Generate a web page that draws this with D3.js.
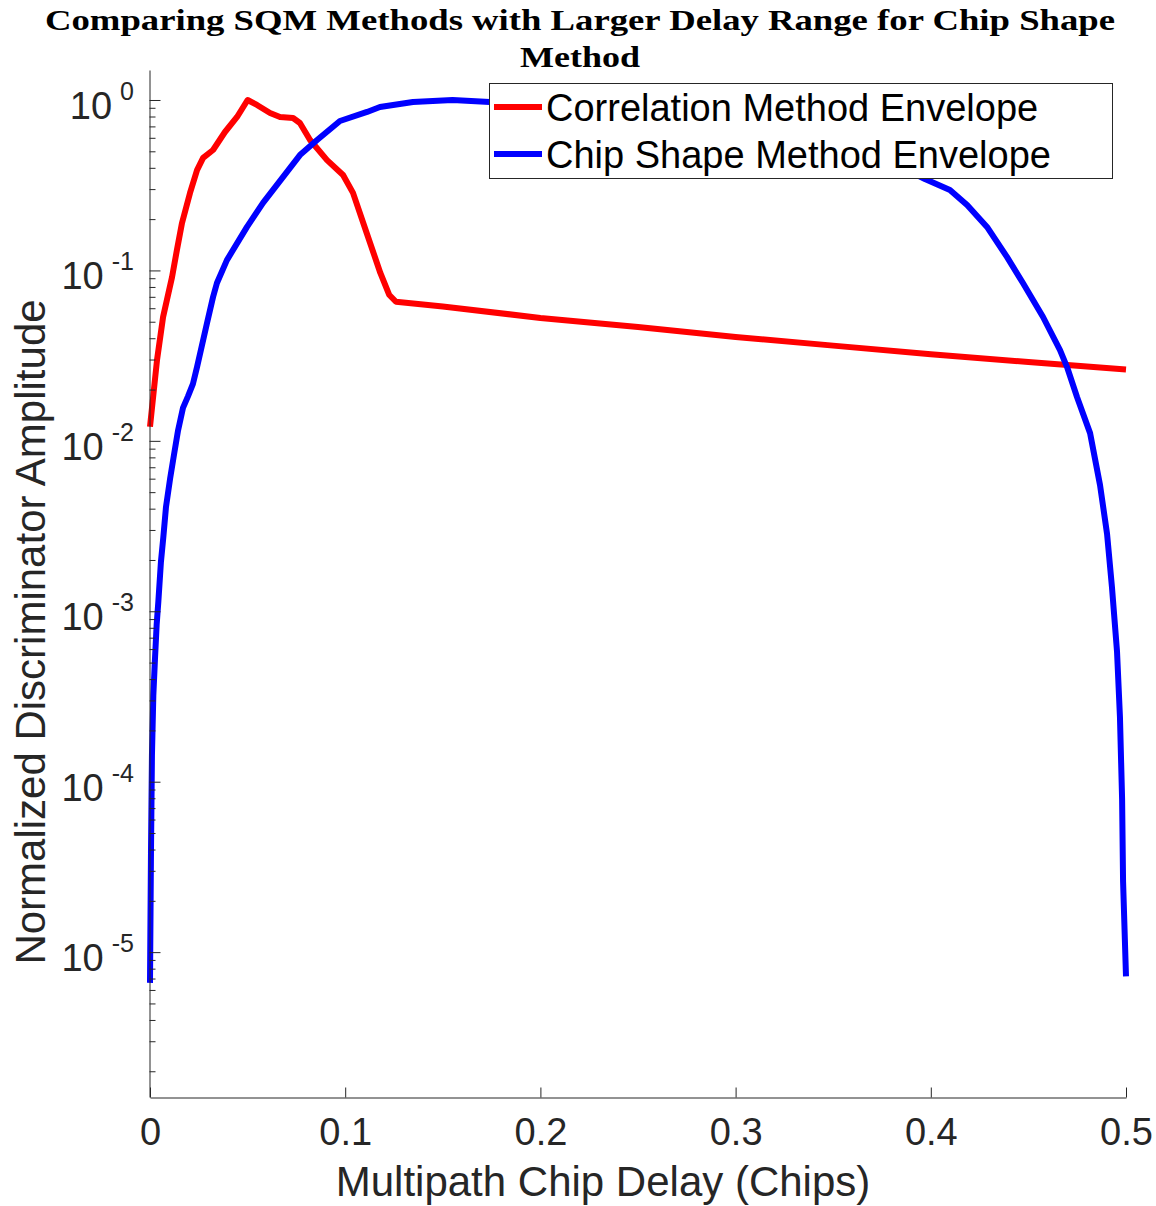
<!DOCTYPE html>
<html>
<head>
<meta charset="utf-8">
<script src="https://cdn.jsdelivr.net/npm/d3@7"></script>
<style>
  html, body { margin: 0; padding: 0; background: #fff; }
  svg { display: block; }
</style>
</head>
<body>
<svg id="chart" width="1156" height="1206"></svg>
<script>
// ---- data ----
const titleLines = ["Comparing SQM Methods with Larger Delay Range for Chip Shape", "Method"];
const xLabel = "Multipath Chip Delay (Chips)";
const yLabel = "Normalized Discriminator Amplitude";
const seriesNames = ["Correlation Method Envelope", "Chip Shape Method Envelope"];
const xTickValues = [0, 0.1, 0.2, 0.3, 0.4, 0.5];
const yTickExponents = [0, -1, -2, -3, -4, -5];

const corrDelay = [0, 0.0036, 0.0067, 0.0113, 0.0138, 0.0164, 0.0205, 0.0241, 0.0272, 0.0323, 0.0384, 0.0446, 0.05,
  0.0548, 0.0615, 0.0666, 0.0733, 0.0768, 0.082, 0.0907, 0.0989, 0.104, 0.111, 0.118, 0.1225, 0.126,
  0.15, 0.2, 0.25, 0.3, 0.35, 0.4, 0.45, 0.5];
const corrAmp = [0.0121, 0.0298, 0.0533, 0.0915, 0.132, 0.19, 0.285, 0.388, 0.457, 0.509, 0.649, 0.795, 1.0,
  0.935, 0.839, 0.795, 0.784, 0.733, 0.582, 0.444, 0.363, 0.285, 0.166, 0.0966, 0.072, 0.0655,
  0.0615, 0.0526, 0.0466, 0.0407, 0.0362, 0.0322, 0.029, 0.0262];

const chipDelay = [0, 0.0005, 0.001, 0.0017, 0.0026, 0.0034, 0.0043, 0.0056, 0.0068, 0.0082, 0.0103, 0.0123, 0.0143,
  0.0169, 0.0195, 0.022, 0.0241, 0.0292, 0.0323, 0.0343, 0.0394, 0.0497, 0.0579, 0.0681, 0.0768, 0.0856, 0.0973,
  0.1112, 0.1178, 0.1347, 0.155, 0.174, 0.2, 0.25, 0.3, 0.35, 0.38, 0.397, 0.4098, 0.4186, 0.4288, 0.439, 0.4472,
  0.4575, 0.4662, 0.4698, 0.4749, 0.4816, 0.4867, 0.4903, 0.4928, 0.4954, 0.4969, 0.498, 0.4985, 0.5];
const chipAmp = [6.6e-6, 3.8e-5, 1.43e-4, 3.2e-4, 5.4e-4, 8.3e-4, 1.15e-3, 1.95e-3, 2.7e-3, 4.1e-3, 6.0e-3, 8.3e-3, 0.0114,
  0.0156, 0.0183, 0.0216, 0.0271, 0.0491, 0.0698, 0.0844, 0.115, 0.18, 0.249, 0.353, 0.475, 0.582, 0.753,
  0.851, 0.91, 0.973, 1.0, 0.973, 0.95, 0.86, 0.72, 0.55, 0.43, 0.344, 0.296, 0.242, 0.18, 0.12, 0.0844,
  0.0533, 0.0341, 0.0271, 0.0181, 0.0111, 0.0055, 0.00284, 0.00139, 5.8e-4, 2.4e-4, 7.9e-5, 2.6e-5, 7.2e-6];

(function () {
// ---- layout ----
const svg = d3.select("#chart");
const plotLeft = 150, plotRight = 1126, plotTop = 70, plotBottom = 1097;
const axisColor = "#262626";
const sans = "'Liberation Sans', Arial, Helvetica, sans-serif";

const x = d3.scaleLinear().domain([0, 0.5]).range([plotLeft, plotRight]);
const y = d3.scaleLog().domain([Math.pow(10, -5.85), Math.pow(10, 0.176)]).range([plotBottom, plotTop]);

// ---- series ----
const line = d3.line().x(d => x(d[0])).y(d => y(d[1]));
const corrData = corrDelay.map((d, i) => [d, corrAmp[i]]);
const chipData = chipDelay.map((d, i) => [d, chipAmp[i]]);
const colors = ["#ff0000", "#0000ff"];

const plot = svg.append("g");
plot.append("path").datum(corrData).attr("d", line)
  .attr("fill", "none").attr("stroke", colors[0]).attr("stroke-width", 6).attr("stroke-linejoin", "round");
plot.append("path").datum(chipData).attr("d", line)
  .attr("fill", "none").attr("stroke", colors[1]).attr("stroke-width", 6).attr("stroke-linejoin", "round");

// ---- axes ----
const [yMin, yMax] = y.domain();
const minorTicks = [];
for (let e = -7; e <= 1; e++) {
  for (let m = 2; m <= 9; m++) {
    const v = m * Math.pow(10, e);
    if (v >= yMin && v <= yMax) minorTicks.push(v);
  }
}
const majorTicks = yTickExponents.map(e => Math.pow(10, e));

const gyMinor = svg.append("g").attr("transform", `translate(${plotLeft - 0.5},0)`)
  .call(d3.axisLeft(y).tickValues(minorTicks).tickSizeInner(-6).tickSizeOuter(0).tickFormat(""));
gyMinor.select(".domain").remove();
gyMinor.selectAll("line").attr("stroke", axisColor);

const gy = svg.append("g").attr("transform", `translate(${plotLeft - 0.5},0)`)
  .call(d3.axisLeft(y).tickValues(majorTicks).tickSizeInner(-11).tickSizeOuter(0).tickFormat(""));
gy.select(".domain").attr("stroke", axisColor);
gy.selectAll("line").attr("stroke", axisColor);

// y tick labels: 10 with superscript exponent
const yLab = svg.append("g");
yTickExponents.forEach(e => {
  const ty = y(Math.pow(10, e));
  const t = yLab.append("text")
    .attr("x", 134).attr("y", ty + 19)
    .attr("text-anchor", "end")
    .attr("font-family", sans).attr("font-size", 38).attr("fill", axisColor);
  t.append("tspan").text("10");
  t.append("tspan").attr("font-size", 25).attr("dx", 8).attr("dy", -19).text(String(e));
});

const gx = svg.append("g").attr("transform", `translate(0,${plotBottom + 0.5})`)
  .call(d3.axisBottom(x).tickValues(xTickValues).tickSizeInner(-10).tickSizeOuter(0).tickFormat(d3.format("")));
gx.select(".domain").attr("stroke", axisColor);
gx.selectAll("line").attr("stroke", axisColor);
gx.selectAll("text").attr("y", 47).attr("dy", null)
  .attr("font-family", sans).attr("font-size", 38).attr("fill", axisColor);

// ---- axis labels ----
svg.append("text").attr("x", 603).attr("y", 1196).attr("text-anchor", "middle")
  .attr("font-family", sans).attr("font-size", 42).attr("fill", axisColor).text(xLabel);
svg.append("text").attr("transform", `translate(45,632) rotate(-90)`).attr("text-anchor", "middle")
  .attr("font-family", sans).attr("font-size", 42).attr("fill", axisColor).text(yLabel);

// ---- title ----
const serif = "'Liberation Serif', 'Times New Roman', serif";
svg.append("text").attr("x", 580).attr("y", 30).attr("text-anchor", "middle")
  .attr("font-family", serif).attr("font-weight", "bold").attr("font-size", 30)
  .attr("textLength", 1070).attr("lengthAdjust", "spacingAndGlyphs").attr("fill", "#000").text(titleLines[0]);
svg.append("text").attr("x", 580).attr("y", 67).attr("text-anchor", "middle")
  .attr("font-family", serif).attr("font-weight", "bold").attr("font-size", 30)
  .attr("textLength", 120).attr("lengthAdjust", "spacingAndGlyphs").attr("fill", "#000").text(titleLines[1]);

// ---- legend ----
const lg = svg.append("g");
lg.append("rect").attr("x", 489.5).attr("y", 83.5).attr("width", 623).attr("height", 95)
  .attr("fill", "#fff").attr("stroke", axisColor).attr("stroke-width", 1);
seriesNames.forEach((name, i) => {
  const cy = 107 + i * 47;
  lg.append("line").attr("x1", 494).attr("x2", 542).attr("y1", cy).attr("y2", cy)
    .attr("stroke", colors[i]).attr("stroke-width", 6);
  lg.append("text").attr("x", 546).attr("y", cy + 13.5)
    .attr("font-family", sans).attr("font-size", 38).attr("fill", "#000").text(name);
});
})();
</script>
</body>
</html>
